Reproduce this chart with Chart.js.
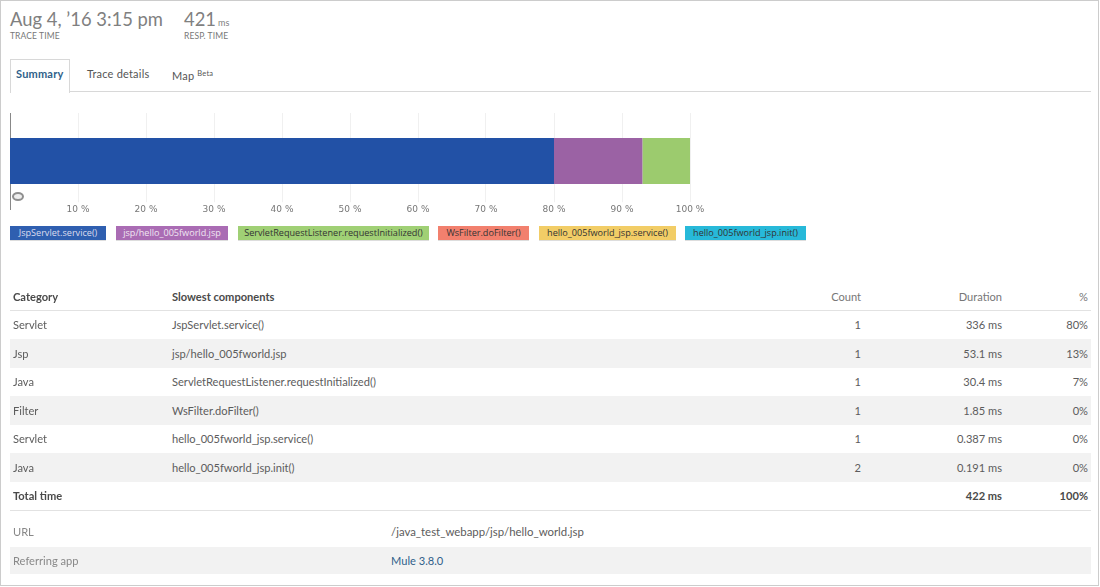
<!DOCTYPE html>
<html>
<head>
<meta charset="utf-8">
<script src="https://cdn.jsdelivr.net/npm/chart.js@4"></script>
<style>
  html, body { margin: 0; padding: 0; background: #fff; }
  body { width: 1100px; height: 587px; overflow: hidden; position: relative; font-family: Lato, "Open Sans", sans-serif; color: #555; }
  .frame { position: absolute; left: 0; top: 0; width: 1097px; height: 584px; border: 1px solid #ccc; }
  .abs { position: absolute; white-space: nowrap; }

  .big { font-size: 18.4px; color: #808080; font-weight: 400; top: 6px; line-height: 26px; }
  .big small { font-size: 9px; margin-left: 2px; }
  .cap { font-size: 8.5px; color: #777; top: 31px; line-height: 10px; letter-spacing: .1px; }

  .tabline { left: 10px; width: 1081px; top: 91px; height: 1px; background: #d8d8d8; }
  .tabbox { left: 10px; top: 59px; width: 58px; height: 33px; border: 1px solid #d8d8d8; border-bottom: 0; background: #fff; box-sizing: content-box; }
  .tab { font-size: 11px; top: 67px; line-height: 14px; color: #555; letter-spacing: .2px; }
  .tab.on { color: #2f5f8a; font-weight: 700; }
  .tab sup { font-size: 7.5px; vertical-align: 4px; line-height: 0; }

  #wrap { position: absolute; left: 0; top: 100px; width: 720px; height: 120px; }
  #wrap canvas { display: block; }
  .ring { left: 12px; top: 192px; width: 8px; height: 5px; border: 2.5px solid #8f8f8f; border-radius: 50%; background: #eee; }

  #legend span { position: absolute; top: 226px; height: 14px; font: 9.1px/13px "Open Sans", sans-serif; color: #333; text-align: center; white-space: nowrap; box-shadow: 0 1px 0 #ddd; }
  #legend span:nth-child(1) { left: 10px; width: 96px; color: #dde; }
  #legend span:nth-child(2) { left: 116px; width: 112px; color: #f0e6f2; }
  #legend span:nth-child(3) { left: 238px; width: 191px; }
  #legend span:nth-child(4) { left: 438px; width: 91px; }
  #legend span:nth-child(5) { left: 539px; width: 137px; }
  #legend span:nth-child(6) { left: 685px; width: 121px; }

  #rows div.row { position: absolute; left: 10px; width: 1081px; font-size: 11.1px; color: #5c5c5c; }
  #rows div.row span { position: absolute; top: 50%; transform: translateY(-50%); white-space: nowrap; line-height: 14px; }
  .c0 { left: 3px; } .c1 { left: 162px; }
  .c2 { right: 230px; } .c3 { right: 89px; } .c4 { right: 3px; }
  .alt { background: #f2f2f2; }
  .lined { border-bottom: 1px solid #e2e2e2; box-sizing: border-box; }
  .bold span { font-weight: 700; color: #4a4a4a; }
  .head .c2, .head .c3, .head .c4 { font-weight: 400; color: #777; }
  .meta .c0 { color: #888; }
  .meta .c5 { left: 381px; font-size: 11.4px; }
  .meta .link { color: #2f5f8a; font-size: 11.1px; }
</style>
</head>
<body>
<div class="frame"></div>

<div class="abs big" style="left:10px">Aug 4, ’16 3:15 pm</div>
<div class="abs cap" style="left:10px">TRACE TIME</div>
<div class="abs big" style="left:184px">421<small>ms</small></div>
<div class="abs cap" style="left:184px">RESP. TIME</div>

<div class="abs tabline"></div>
<div class="abs tabbox"></div>
<div class="abs tab on" style="left:16px">Summary</div>
<div class="abs tab" style="left:87px">Trace details</div>
<div class="abs tab" style="left:172px;top:69px">Map <sup>Beta</sup></div>

<div id="wrap"><canvas id="breakdown" width="720" height="120"></canvas></div>
<div class="abs ring"></div>
<div id="legend"></div>
<div id="rows"></div>

<script>
// Trace breakdown data
const components = ['JspServlet.service()', 'jsp/hello_005fworld.jsp', 'ServletRequestListener.requestInitialized()', 'WsFilter.doFilter()', 'hello_005fworld_jsp.service()', 'hello_005fworld_jsp.init()'];
const categories = ['Servlet', 'Jsp', 'Java', 'Filter', 'Servlet', 'Java'];
const counts = [1, 1, 1, 1, 1, 2];
const durations = ['336 ms', '53.1 ms', '30.4 ms', '1.85 ms', '0.387 ms', '0.191 ms'];
const percents = [80, 13, 7, 0, 0, 0];
const barColors = ['#2251a6', '#9b62a4', '#9ccb6e', '#f07f6c', '#f2cd66', '#27b9d9'];
const legendColors = ['#2f5fb0', '#aa6cb4', '#a0d075', '#f2806e', '#f2cd66', '#27b9d9'];
const tickValues = [10, 20, 30, 40, 50, 60, 70, 80, 90, 100];

// --- Chart ---
new Chart(document.getElementById('breakdown').getContext('2d'), {
  type: 'bar',
  data: {
    labels: ['Trace'],
    datasets: components.map((name, i) => ({
      label: name,
      data: [percents[i]],
      backgroundColor: barColors[i],
      barPercentage: 0.479,
      categoryPercentage: 1
    }))
  },
  options: {
    indexAxis: 'y',
    responsive: false,
    animation: false,
    devicePixelRatio: 1,
    layout: { padding: { left: 10, right: 30, top: 13, bottom: 11 } },
    plugins: { legend: { display: false }, title: { display: false }, tooltip: { enabled: false } },
    scales: {
      x: {
        stacked: true,
        min: 0,
        max: 100,
        // labels sit inside the plot, mirror keeps them from being clipped to the zero height axis
        afterFit: scale => { scale.height = 0; },
        afterBuildTicks: scale => { scale.ticks = tickValues.map(value => ({ value })); },
        grid: { color: '#f0f0f0', drawTicks: false },
        border: { display: false },
        ticks: {
          mirror: true,
          padding: -6,
          maxRotation: 0,
          autoSkip: false,
          showLabelBackdrop: true,
          backdropColor: '#fff',
          backdropPadding: 2,
          color: '#777',
          font: { family: '"DejaVu Sans"', size: 9 },
          callback: val => val + ' %'
        }
      },
      y: {
        stacked: true,
        grid: { display: false, drawTicks: false },
        border: { display: true, color: '#888', width: 1 },
        ticks: { display: false }
      }
    }
  }
});

// --- Legend ---
document.getElementById('legend').innerHTML = components.map((name, i) =>
  '<span style="background:' + legendColors[i] + '">' + name + '</span>').join('');

// --- Table ---
function row(top, height, classes, cells) {
  return '<div class="row ' + classes + '" style="top:' + top + 'px;height:' + height + 'px">' +
    cells.map(c => '<span class="' + c[0] + '">' + c[1] + '</span>').join('') + '</div>';
}
const rowTops = [311, 339, 368, 396, 425, 453, 482];
let html = row(283, 28, 'bold head lined', [['c0', 'Category'], ['c1', 'Slowest components'], ['c2', 'Count'], ['c3', 'Duration'], ['c4', '%']]);
components.forEach((name, i) => {
  html += row(rowTops[i], rowTops[i + 1] - rowTops[i], i % 2 ? 'alt' : '', [
    ['c0', categories[i]], ['c1', name], ['c2', counts[i]], ['c3', durations[i]], ['c4', percents[i] + '%']
  ]);
});
html += row(482, 29, 'bold lined', [['c0', 'Total time'], ['c3', '422 ms'], ['c4', '100%']]);
html += row(517, 29, 'meta', [['c0', 'URL'], ['c5', '/java_test_webapp/jsp/hello_world.jsp']]);
html += row(547, 27, 'meta alt', [['c0', 'Referring app'], ['c5 link', 'Mule 3.8.0']]);
document.getElementById('rows').innerHTML = html;
</script>
</body>
</html>
